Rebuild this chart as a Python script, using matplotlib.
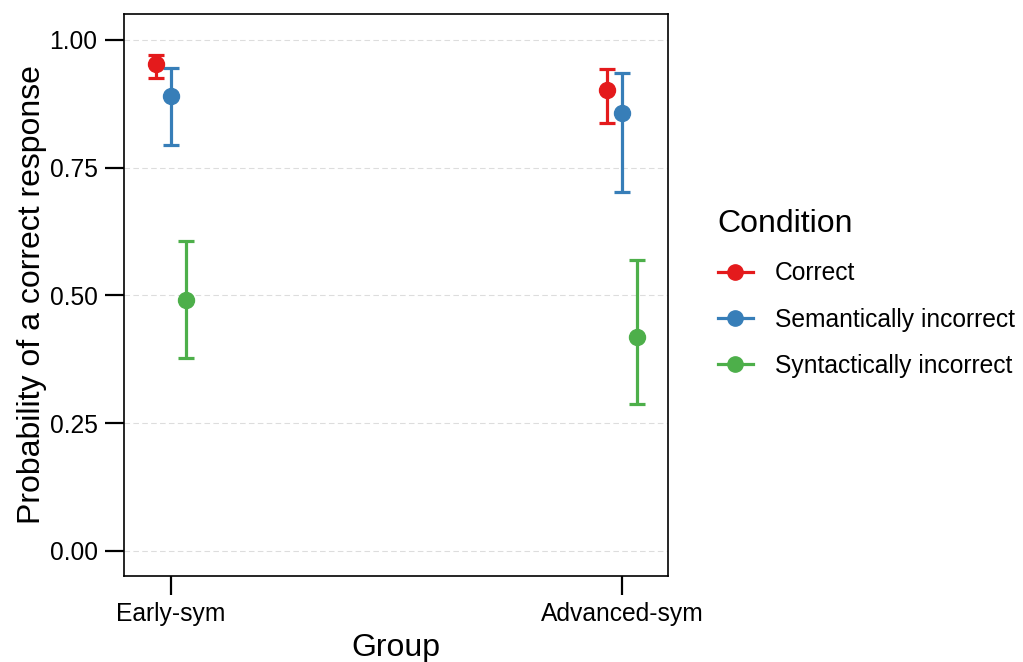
import numpy as np
import matplotlib.pyplot as plt
from matplotlib.lines import Line2D

plt.rcParams['font.family'] = ['Liberation Sans', 'DejaVu Sans']

groups = ["Early-sym", "Advanced-sym"]
conditions = ["Correct", "Semantically incorrect", "Syntactically incorrect"]
colors = ["#E41A1C", "#377EB8", "#4DAF4A"]

# estimate, lower CI, upper CI per condition (Early-sym, Advanced-sym)
prob = {
    "Correct": [0.953, 0.902],
    "Semantically incorrect": [0.890, 0.857],
    "Syntactically incorrect": [0.491, 0.419],
}
lower = {
    "Correct": [0.926, 0.838],
    "Semantically incorrect": [0.795, 0.703],
    "Syntactically incorrect": [0.378, 0.288],
}
upper = {
    "Correct": [0.971, 0.943],
    "Semantically incorrect": [0.945, 0.935],
    "Syntactically incorrect": [0.607, 0.569],
}

fig = plt.figure(figsize=(10.23, 6.62), dpi=100)
ax = fig.add_axes([0.1212, 0.130, 0.532, 0.849])

x = np.arange(1, len(groups) + 1)
offsets = [-0.033, 0.0, 0.033]

for cond, col, off in zip(conditions, colors, offsets):
    y = np.array(prob[cond])
    lo = y - np.array(lower[cond])
    hi = np.array(upper[cond]) - y
    ax.errorbar(x + off, y, yerr=[lo, hi], fmt="o", color=col, ms=11.5,
                elinewidth=2.3, capsize=6, capthick=2.3, zorder=3)

ax.set_xlim(0.896, 2.102)
ax.set_ylim(-0.049, 1.051)
ax.set_xticks(x)
ax.set_xticklabels(groups)
ax.set_yticks([0, 0.25, 0.5, 0.75, 1.0])
ax.set_yticklabels(["0.00", "0.25", "0.50", "0.75", "1.00"])
ax.tick_params(axis="both", direction="out", length=14, width=1.6,
               labelsize=17.7, colors="black", pad=5)
ax.yaxis.grid(True, linestyle=(0, (5, 3)), color="#dddddd", linewidth=0.8)
ax.set_axisbelow(True)
for s in ax.spines.values():
    s.set_linewidth(1.2)

ax.set_xlabel("Group", fontsize=23, labelpad=5)
ax.set_ylabel("Probability of a correct response", fontsize=23, labelpad=2)

handles = [Line2D([0], [0], color=c, marker="o", ms=11, lw=2.3) for c in colors]
leg = fig.legend(handles, conditions, title="Condition", loc="upper left",
                 bbox_to_anchor=(0.680, 0.718), frameon=False, fontsize=17.7,
                 title_fontsize=23, handlelength=1.42, handletextpad=0.9,
                 labelspacing=0.91)
leg._legend_box.align = "left"

fig.savefig("out.png", dpi=100)
